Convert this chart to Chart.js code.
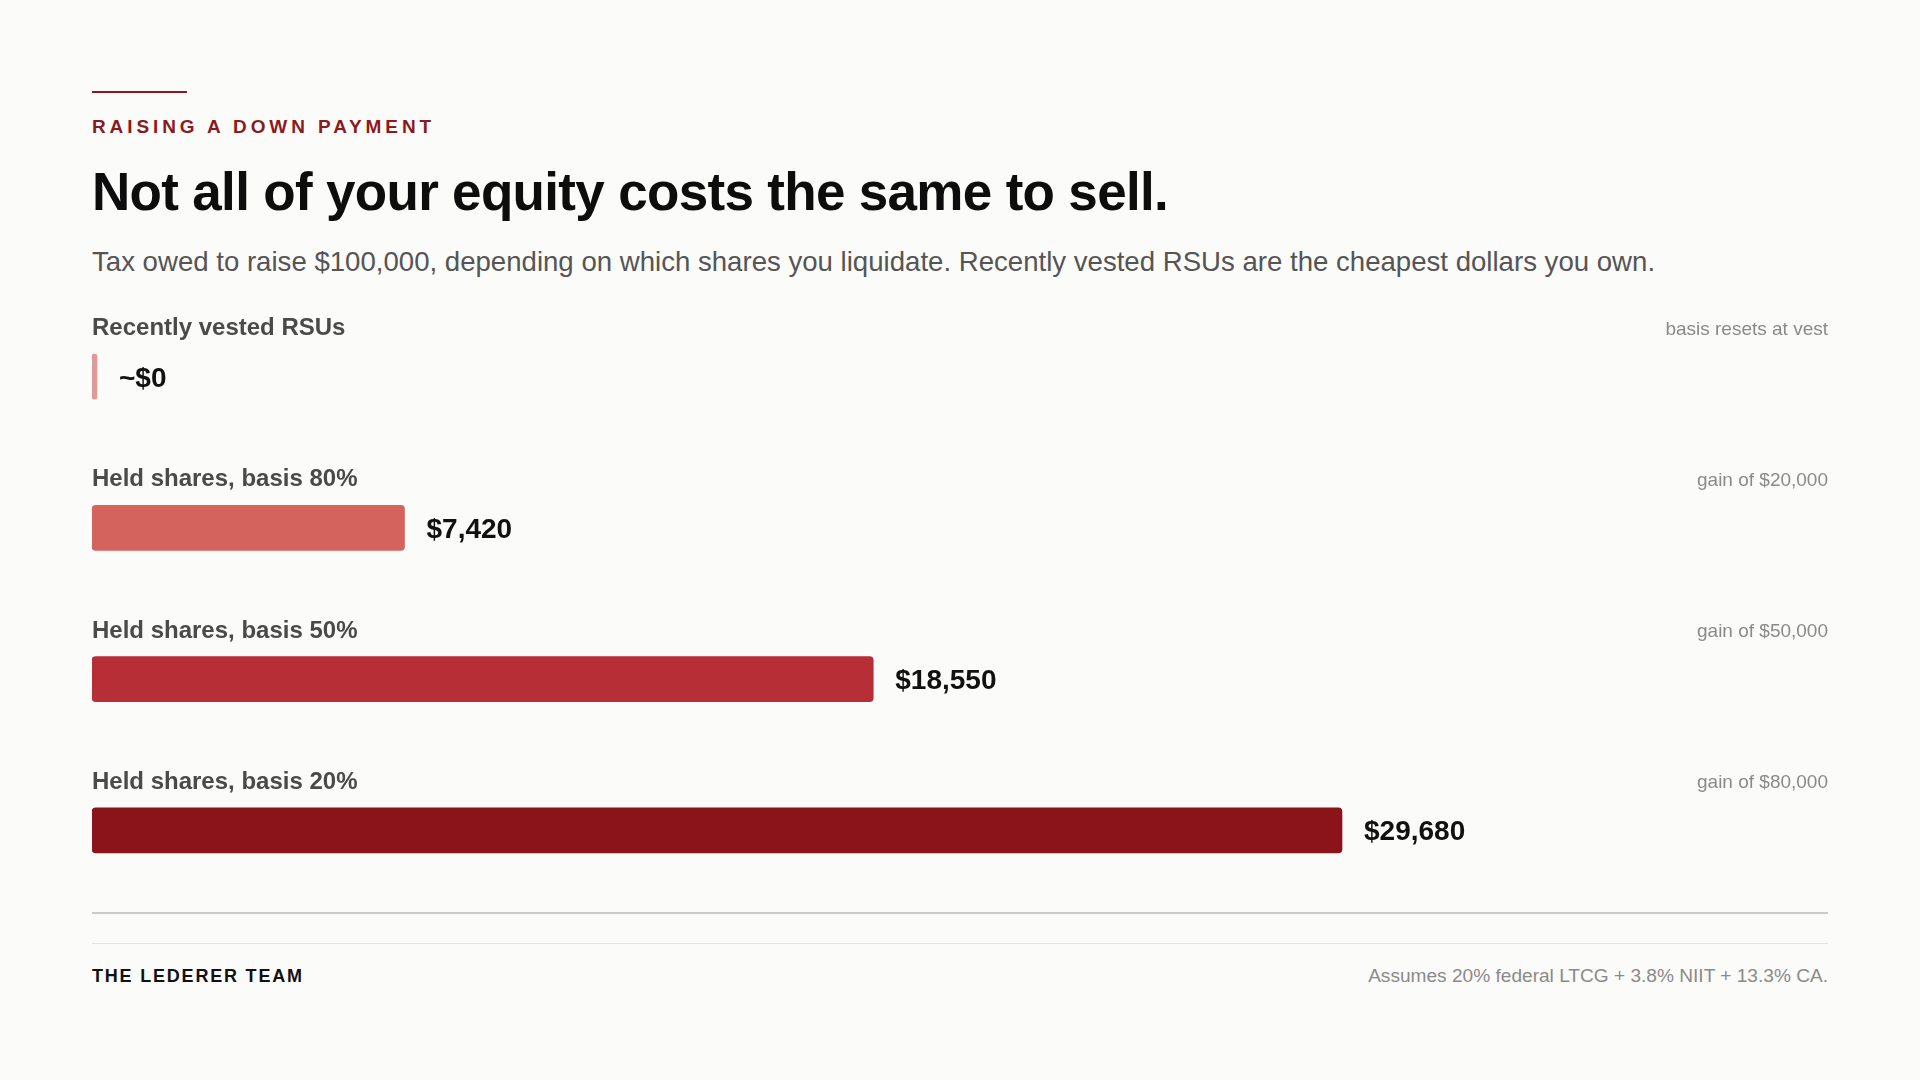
<!DOCTYPE html>
<html lang="en">

<head>
  <meta charset="UTF-8">
  <title>Raising a down payment</title>
  <style>
    body {
      margin: 0;
      background-color: #fbfbf9;
      font-family: 'Liberation Sans', Arial, Helvetica, sans-serif;
      color: #111;
    }

    .page {
      width: 1736px;
      padding-left: 92px;
      padding-top: 91px;
    }

    .rule {
      width: 95px;
      height: 2px;
      background-color: #8b1a1f;
    }

    .eyebrow {
      margin-top: 24px;
      font-size: 19px;
      line-height: 19px;
      font-weight: bold;
      letter-spacing: 3.9px;
      color: #8b1a1f;
    }

    h1 {
      margin: 29px 0 0 0;
      font-size: 53px;
      line-height: 53px;
      font-weight: bold;
      letter-spacing: -0.68px;
      color: #0d0d0d;
    }

    .subtitle {
      margin-top: 30px;
      font-size: 27.6px;
      line-height: 27.6px;
      color: #555;
    }

    .chart-wrap {
      margin-top: 25px;
      width: 1736px;
      height: 605px;
      position: relative;
    }

    .axis-line {
      margin-top: 6px;
      height: 2px;
      background-color: #cbcbc6;
    }

    .footer-line {
      margin-top: 29px;
      height: 1px;
      background-color: #e4e4df;
    }

    footer {
      margin-top: 22px;
      display: flex;
      justify-content: space-between;
      align-items: baseline;
      line-height: 19px;
    }

    .brand {
      font-size: 18px;
      font-weight: bold;
      letter-spacing: 0.1em;
      color: #111;
    }

    .assumption {
      font-size: 19.1px;
      color: #8a8a8a;
    }
  </style>
  <script src="https://cdn.jsdelivr.net/npm/chart.js"></script>
</head>

<body>
  <div class="page">
    <div class="rule"></div>
    <div class="eyebrow">RAISING A DOWN PAYMENT</div>
    <h1>Not all of your equity costs the same to sell.</h1>
    <div class="subtitle">Tax owed to raise $100,000, depending on which shares you liquidate. Recently vested RSUs are the cheapest dollars you own.</div>

    <div class="chart-wrap">
      <canvas id="taxChart"></canvas>
    </div>

    <div class="axis-line"></div>
    <div class="footer-line"></div>
    <footer>
      <span class="brand">THE LEDERER TEAM</span>
      <span class="assumption">Assumes 20% federal LTCG + 3.8% NIIT + 13.3% CA.</span>
    </footer>
  </div>

  <script>
    // data
    const categories = ['Recently vested RSUs', 'Held shares, basis 80%', 'Held shares, basis 50%', 'Held shares, basis 20%'];
    const taxOwed = [0, 7420, 18550, 29680];
    const notes = ['basis resets at vest', 'gain of $20,000', 'gain of $50,000', 'gain of $80,000'];
    const barColors = ['#e09999', '#d4625d', '#b82e37', '#8b131a'];

    const fontFamily = "'Liberation Sans', Arial, Helvetica, sans-serif";

    function valueLabel(v) {
      return v === 0 ? '~$0' : '$' + v.toLocaleString('en-US');
    }

    // draws row label above each bar, note on the right, value after the bar
    const rowLabels = {
      id: 'rowLabels',
      afterDatasetsDraw(chart) {
        const ctx = chart.ctx;
        const area = chart.chartArea;
        const meta = chart.getDatasetMeta(0);
        ctx.save();
        meta.data.forEach((bar, i) => {
          const top = bar.y - bar.height / 2;

          ctx.textBaseline = 'alphabetic';
          ctx.textAlign = 'left';
          ctx.fillStyle = '#4a4a4a';
          ctx.font = 'bold 24px ' + fontFamily;
          ctx.fillText(categories[i], area.left, top - 19);

          ctx.textAlign = 'right';
          ctx.fillStyle = '#8a8a8a';
          ctx.font = '19px ' + fontFamily;
          ctx.fillText(notes[i], area.right, top - 19.5);

          ctx.textAlign = 'left';
          ctx.fillStyle = '#111';
          ctx.font = 'bold 28px ' + fontFamily;
          ctx.fillText(valueLabel(taxOwed[i]), bar.x + 22, bar.y + 10);
        });
        ctx.restore();
      }
    };

    const ctx = document.getElementById('taxChart').getContext('2d');
    const chart = new Chart(ctx, {
      type: 'bar',
      data: {
        labels: categories,
        datasets: [{
          data: taxOwed,
          backgroundColor: barColors,
          borderRadius: 4,
          borderSkipped: false,
          barThickness: 45,
          minBarLength: 5
        }]
      },
      options: {
        indexAxis: 'y',
        responsive: true,
        maintainAspectRatio: false,
        animation: false,
        layout: { padding: 0 },
        plugins: {
          legend: { display: false },
          tooltip: { enabled: false }
        },
        scales: {
          x: { display: false, min: 0, max: 41220 },
          y: { display: false }
        }
      },
      plugins: [rowLabels]
    });
  </script>
</body>

</html>
